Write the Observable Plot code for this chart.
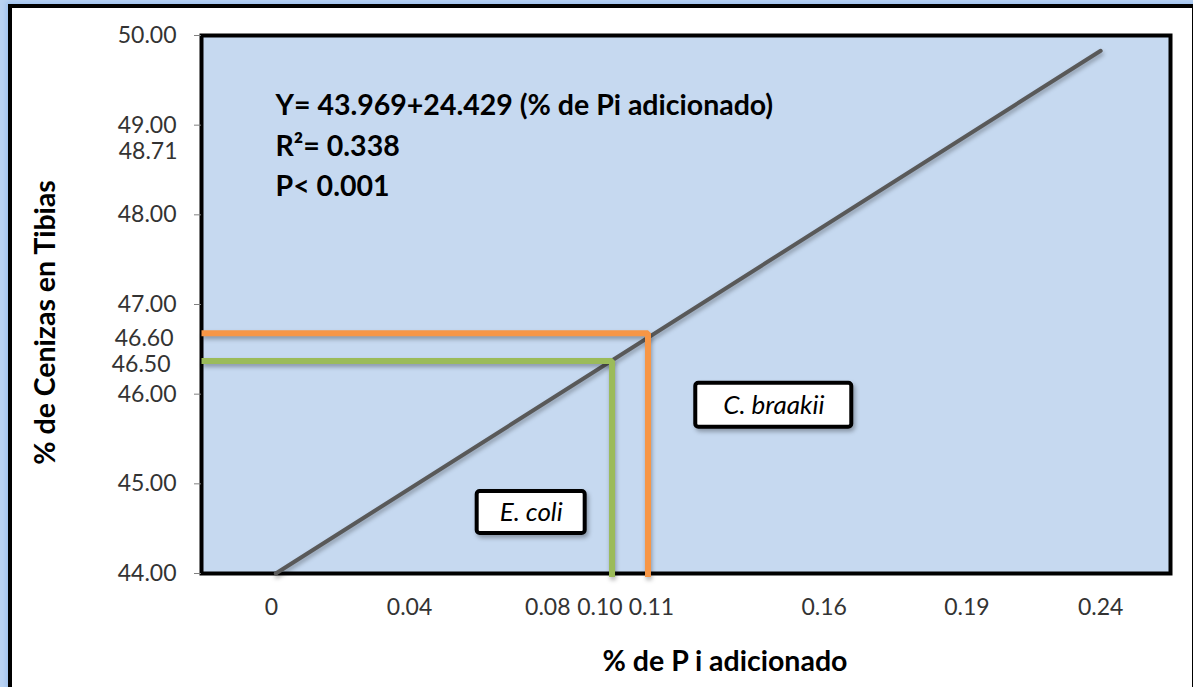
<!DOCTYPE html>
<html>
<head>
<meta charset="utf-8">
<script src="https://cdn.jsdelivr.net/npm/d3@7"></script>
<script src="https://cdn.jsdelivr.net/npm/@observablehq/plot@0.6"></script>
<style>
  html, body { margin: 0; padding: 0; }
  body { width: 1193px; height: 687px; position: relative; overflow: hidden; background: #b9d2f2; font-family: Lato, sans-serif; }
  #frame { position: absolute; left: 8px; top: 4px; width: 1180px; height: 679px; border-left: 4px solid #000; border-top: 4px solid #000; border-right: 3px solid #000; border-bottom: 3px solid #000; background: #fff; box-shadow: 0 0 4px 2px #9fc2ee; }
  #chart { position: absolute; left: 0; top: 0; }
  #chart g[aria-label="frame"] rect { filter: drop-shadow(2px 3px 2px rgba(0,0,0,0.35)); }
  #chart g[aria-label="line"] path { filter: drop-shadow(1px 3px 2px rgba(0,0,0,0.3)); }
  #chart g[aria-label="rect"] rect { filter: drop-shadow(2px 3px 2px rgba(0,0,0,0.3)); }
</style>
</head>
<body>
<div id="frame"></div>
<div id="chart"></div>
<script>
// ---- data ----
const xTicks = [0, 0.04, 0.08, 0.11, 0.16, 0.24];
const xTickLabels = ["0", "0.04", "0.08", "0.11", "0.16", "0.24"];
const xTickShifted1 = [0.10];
const xTickShifted1Labels = ["0.10"];
const xTickShifted2 = [0.19];
const xTickShifted2Labels = ["0.19"];
const yTicks = [44, 45, 46, 47, 48, 49, 50];
const yExtraA = [48.71];
const yExtraB = [46.60];
const yExtraC = [46.50];

// regression line  Y = 43.969 + 24.429 x (endpoints as read)
const regX = [0.0013, 0.24];
const regY = [44.0, 49.83];

// C. braakii guide (orange) and E. coli guide (green)
const braakiiX = [-0.0202, 0.109, 0.109];
const braakiiY = [46.68, 46.68, 43.96];
const coliX = [-0.0202, 0.0986, 0.0986];
const coliY = [46.37, 46.37, 43.96];

const annotationLines = ["Y= 43.969+24.429 (% de Pi adicionado)", "R²= 0.338", "P< 0.001"];
const strainNames = ["E. coli", "C. braakii"];
const strainX = [0.0752, 0.1454];
const strainY = [44.68, 45.877];

const yTitle = "% de Cenizas en Tibias";
const xTitle = "% de P i adicionado";

// ---- build tables ----
const reg = regX.map((x, i) => ({x, y: regY[i]}));
const braakii = braakiiX.map((x, i) => ({x, y: braakiiY[i]}));
const coli = coliX.map((x, i) => ({x, y: coliY[i]}));
const strains = strainNames.map((name, i) => ({name, x: strainX[i], y: strainY[i]}));

const fmt = (ticks, labels) => (d) => labels[ticks.indexOf(d)];

const chart = Plot.plot({
  width: 1193,
  height: 687,
  marginLeft: 201,
  marginRight: 23,
  marginTop: 35,
  marginBottom: 114,
  style: {background: "transparent", fontFamily: "Lato, sans-serif", fontSize: "23px", color: "#333"},
  x: {domain: [-0.0202, 0.2602]},
  y: {domain: [44, 50]},
  marks: [
    Plot.frame({fill: "#c6d9f0", stroke: "#000", strokeWidth: 4}),
    // axes
    Plot.axisY({ticks: yTicks, tickFormat: d => d.toFixed(2), tickSize: 7, tickPadding: 18, stroke: "#808080", fill: "#333", label: null}),
    Plot.axisY({ticks: yExtraA, tickFormat: d => d.toFixed(2), tickSize: 0, tickPadding: 24, fill: "#333", label: null}),
    Plot.axisY({ticks: yExtraB, tickFormat: d => d.toFixed(2), tickSize: 0, tickPadding: 28, dy: -2, fill: "#333", label: null}),
    Plot.axisY({ticks: yExtraC, tickFormat: d => d.toFixed(2), tickSize: 0, tickPadding: 31, dy: 15, fill: "#333", label: null}),
    Plot.axisX({ticks: xTicks, tickFormat: fmt(xTicks, xTickLabels), tickSize: 0, tickPadding: 25, fill: "#333", label: null}),
    Plot.axisX({ticks: xTickShifted1, tickFormat: fmt(xTickShifted1, xTickShifted1Labels), tickSize: 0, tickPadding: 25, dx: -17, fill: "#333", label: null}),
    Plot.axisX({ticks: xTickShifted2, tickFormat: fmt(xTickShifted2, xTickShifted2Labels), tickSize: 0, tickPadding: 25, dx: 39, fill: "#333", label: null}),
    // regression line
    Plot.line(reg, {x: "x", y: "y", stroke: "#595959", strokeWidth: 4, strokeLinecap: "round"}),
    // guides
    Plot.line(braakii, {x: "x", y: "y", stroke: "#f79646", strokeWidth: 6, strokeLinejoin: "miter", strokeLinecap: "butt"}),
    Plot.line(coli, {x: "x", y: "y", stroke: "#9bbb59", strokeWidth: 6, strokeLinejoin: "miter", strokeLinecap: "butt"}),
    // strain boxes
    Plot.rect([strains[0]], {x1: "x", x2: "x", y1: "y", y2: "y", insetLeft: -54, insetRight: -54, insetTop: -21, insetBottom: -21, fill: "#fff", stroke: "#000", strokeWidth: 4, rx: 3}),
    Plot.rect([strains[1]], {x1: "x", x2: "x", y1: "y", y2: "y", insetLeft: -78, insetRight: -78, insetTop: -22, insetBottom: -22, fill: "#fff", stroke: "#000", strokeWidth: 4, rx: 3}),
    Plot.text(strains, {x: "x", y: "y", text: "name", fontStyle: "italic", fontSize: 26, fill: "#000"}),
    // regression annotation
    Plot.text([annotationLines.join("\n")], {frameAnchor: "top-left", dx: 74, dy: 51, textAnchor: "start", lineAnchor: "top", lineHeight: 1.42, fontWeight: "bold", fontSize: 28.5, fill: "#000"}),
    // axis titles
    Plot.text([yTitle], {frameAnchor: "left", textAnchor: "middle", dx: -156, dy: 18, rotate: -90, fontWeight: "bold", fontSize: 28.5, fill: "#000"}),
    Plot.text([xTitle], {frameAnchor: "bottom", textAnchor: "middle", dx: 39, dy: 97, fontWeight: "bold", fontSize: 28.5, fill: "#000"})
  ]
});
document.getElementById("chart").appendChild(chart);
</script>
</body>
</html>
